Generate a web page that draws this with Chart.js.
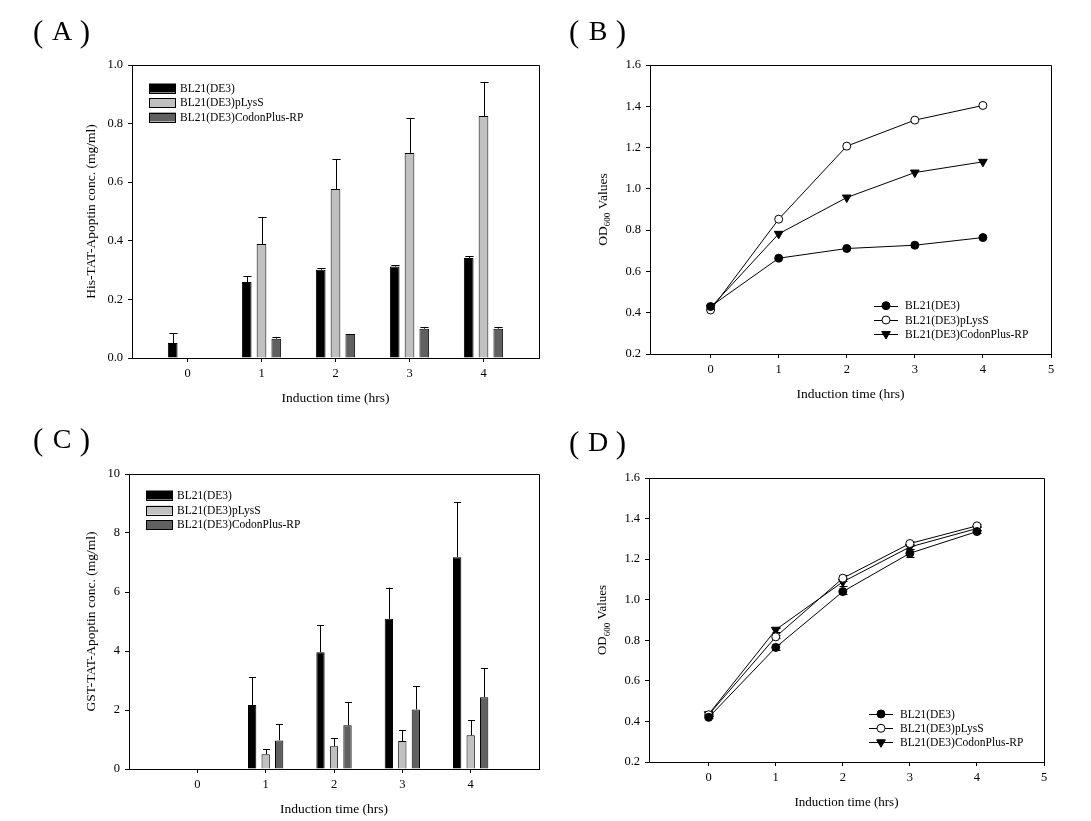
<!DOCTYPE html>
<html>
<head>
<meta charset="utf-8">
<script src="https://cdn.jsdelivr.net/npm/chart.js@4.4.1/dist/chart.umd.min.js"></script>
<style>
  body { margin: 0; background: #fff; width: 1091px; height: 821px; overflow: hidden; position: relative; }
  canvas { position: absolute; }
</style>
</head>
<body>
<canvas id="cA" width="545" height="410" style="left:0;top:0"></canvas>
<canvas id="cB" width="546" height="410" style="left:545px;top:0"></canvas>
<canvas id="cC" width="545" height="411" style="left:0;top:410px"></canvas>
<canvas id="cD" width="546" height="411" style="left:545px;top:410px"></canvas>
<script>
var hours = [0, 1, 2, 3, 4];
var strains = ['BL21(DE3)', 'BL21(DE3)pLysS', 'BL21(DE3)CodonPlus-RP'];
var xTicksBar = [0, 1, 2, 3, 4];
var xTicksLine = [0, 1, 2, 3, 4, 5];
var yTicksHis = [0, 0.2, 0.4, 0.6, 0.8, 1.0];
var yTicksGst = [0, 2, 4, 6, 8, 10];
var yTicksOD = [0.2, 0.4, 0.6, 0.8, 1.0, 1.2, 1.4, 1.6];

// (A) His-TAT-Apoptin conc. (mean, upper error)
var hisBL21 = [0.051, 0.259, 0.301, 0.312, 0.341];
var hisBL21Err = [0.034, 0.021, 0.006, 0.005, 0.007];
var hisPLysS = [null, 0.389, 0.577, 0.700, 0.826];
var hisPLysSErr = [0, 0.092, 0.102, 0.119, 0.116];
var hisCodon = [null, 0.066, 0.082, 0.100, 0.100];
var hisCodonErr = [0, 0.006, 0, 0.006, 0.006];

// (B) OD600, His constructs
var odHisBL21 = [0.430, 0.664, 0.711, 0.727, 0.764];
var odHisPLysS = [0.413, 0.853, 1.207, 1.333, 1.404];
var odHisCodon = [0.425, 0.782, 0.958, 1.079, 1.131];

// (C) GST-TAT-Apoptin conc.
var gstBL21 = [null, 2.17, 3.96, 5.09, 7.18];
var gstBL21Err = [0, 0.94, 0.92, 1.06, 1.86];
var gstPLysS = [null, 0.50, 0.77, 0.95, 1.14];
var gstPLysSErr = [0, 0.17, 0.27, 0.36, 0.51];
var gstCodon = [null, 0.97, 1.48, 2.02, 2.43];
var gstCodonErr = [0, 0.55, 0.78, 0.79, 0.99];

// (D) OD600, GST constructs
var odGstBL21 = [0.420, 0.765, 1.040, 1.229, 1.336];
var odGstBL21Err = [0.005, 0.015, 0.012, 0.02, 0.008];
var odGstPLysS = [0.433, 0.817, 1.106, 1.277, 1.364];
var odGstPLysSErr = [0.005, 0.008, 0.015, 0.01, 0.008];
var odGstCodon = [0.436, 0.852, 1.088, 1.260, 1.351];
var odGstCodonErr = [0.005, 0.01, 0.02, 0.012, 0.008];

var SERIF = "'Liberation Serif', 'DejaVu Serif', serif";
Chart.defaults.font.family = SERIF;
Chart.defaults.color = '#000';

function pts(ys) {
    return hours.map(function (h, i) { return { x: h, y: ys[i] }; });
}

// error bars, frame, titles, legend, panel letter
var decor = {
    id: 'decor',
    beforeDatasetsDraw: function (chart, args, o) {
        var ctx = chart.ctx;
        var ys = chart.scales.y;
        ctx.save();
        ctx.strokeStyle = '#000';
        ctx.lineWidth = 1;
        chart.data.datasets.forEach(function (ds, di) {
            if (!ds.errs) return;
            var meta = chart.getDatasetMeta(di);
            meta.data.forEach(function (el, i) {
                var v = ds.data[i].y, e = ds.errs[i];
                if (v === null || !e) return;
                var x = Math.round(el.x) + 0.5;
                var top = ys.getPixelForValue(v + e);
                var bot = ds.type === 'line' || chart.config.type === 'line' ? ys.getPixelForValue(v - e) : el.y;
                var cap = chart.config.type === 'bar' ? el.width * 0.85 / 2 : 4;
                ctx.beginPath();
                ctx.moveTo(x, bot); ctx.lineTo(x, top);
                ctx.moveTo(x - cap, Math.round(top) + 0.5); ctx.lineTo(x + cap, Math.round(top) + 0.5);
                if (chart.config.type === 'line') {
                    ctx.moveTo(x - cap, Math.round(bot) + 0.5); ctx.lineTo(x + cap, Math.round(bot) + 0.5);
                }
                ctx.stroke();
            });
        });
        ctx.restore();
    },
    afterDraw: function (chart, args, o) {
        var ctx = chart.ctx, a = chart.chartArea;
        ctx.save();
        ctx.strokeStyle = '#000';
        ctx.lineWidth = 1;
        // top and right frame
        ctx.beginPath();
        ctx.moveTo(Math.round(a.left), Math.round(a.top) + 0.5);
        ctx.lineTo(Math.round(a.right) + 0.5, Math.round(a.top) + 0.5);
        ctx.lineTo(Math.round(a.right) + 0.5, Math.round(a.bottom));
        ctx.stroke();

        ctx.fillStyle = '#000';
        // panel letter
        ctx.textBaseline = 'alphabetic';
        ctx.font = '31px ' + SERIF;
        ctx.textAlign = 'left';
        ctx.fillText('(', o.panel.x, o.panel.y + 2);
        ctx.textAlign = 'right';
        ctx.fillText(')', o.panel.x + 57, o.panel.y + 2);
        ctx.font = '28px ' + SERIF;
        ctx.textAlign = 'center';
        ctx.fillText(o.panel.text, o.panel.x + 29, o.panel.y);

        // x title
        ctx.font = o.titleFont + 'px ' + SERIF;
        ctx.textBaseline = 'middle';
        ctx.fillText(o.xTitle, (a.left + a.right) / 2, o.xTitleY);

        // y title (optional subscript)
        ctx.save();
        ctx.translate(o.yTitleX, (a.top + a.bottom) / 2);
        ctx.rotate(-Math.PI / 2);
        ctx.textAlign = 'left';
        var big = o.titleFont + 'px ' + SERIF, small = Math.round(o.titleFont * 0.7) + 'px ' + SERIF;
        var parts = o.yTitle;
        var total = 0;
        parts.forEach(function (p) { ctx.font = p.sub ? small : big; total += ctx.measureText(p.t).width; });
        var cx = -total / 2;
        parts.forEach(function (p) {
            ctx.font = p.sub ? small : big;
            ctx.fillText(p.t, cx, p.sub ? 5 : 0);
            cx += ctx.measureText(p.t).width;
        });
        ctx.restore();

        // legend
        var L = o.legend;
        ctx.font = L.font + 'px ' + SERIF;
        ctx.textAlign = 'left';
        ctx.textBaseline = 'middle';
        chart.data.datasets.forEach(function (ds, i) {
            var cy = L.rows[i];
            if (L.kind === 'bar') {
                ctx.fillStyle = ds.backgroundColor;
                ctx.fillRect(L.x, cy - 4.5, 27, 9);
                ctx.strokeRect(L.x + 0.5, Math.round(cy - 4.5) + 0.5, 26, 9);
                ctx.fillStyle = '#000';
                ctx.fillText(ds.label, L.x + 31, cy + 0.5);
            } else {
                ctx.beginPath();
                ctx.moveTo(L.x, Math.round(cy) + 0.5);
                ctx.lineTo(L.x + 24, Math.round(cy) + 0.5);
                ctx.stroke();
                ctx.fillStyle = ds.pointBackgroundColor;
                ctx.strokeStyle = '#000';
                ctx.lineWidth = 1;
                Chart.helpers.drawPoint(ctx, {
                    pointStyle: ds.pointStyle, radius: ds.pointRadius,
                    rotation: ds.pointRotation || 0, borderWidth: 1
                }, L.x + 12, cy);
                ctx.fillStyle = '#000';
                ctx.fillText(ds.label, L.x + 31, cy + 0.5);
            }
        });
        ctx.restore();
    }
};

function scales(W, H, area, xMin, xMax, xTicks, yMin, yMax, yTicks, digits) {
    return {
        x: {
            type: 'linear', min: xMin, max: xMax, offset: false,
            afterBuildTicks: function (s) { s.ticks = xTicks.map(function (v) { return { value: v }; }); },
            afterFit: function (s) { s.height = 40; },
            grid: { offset: false, drawOnChartArea: false, tickLength: 4, color: '#000', lineWidth: 1 },
            border: { color: '#000', width: 1 },
            ticks: { color: '#000', font: { size: 12.5 }, padding: 4, maxRotation: 0, autoSkip: false,
                     callback: function (v) { return String(v); } }
        },
        y: {
            type: 'linear', min: yMin, max: yMax,
            afterBuildTicks: function (s) { s.ticks = yTicks.map(function (v) { return { value: v }; }); },
            afterFit: function (s) { s.width = 50; },
            grid: { drawOnChartArea: false, tickLength: 4, color: '#000', lineWidth: 1 },
            border: { color: '#000', width: 1 },
            ticks: { color: '#000', font: { size: 12.5 }, padding: 5, autoSkip: false,
                     callback: function (v) { return v.toFixed(digits); } }
        }
    };
}

function layout(W, H, area) {
    return { padding: { left: area.l - 50, top: area.t, right: W - area.r, bottom: H - area.b - 40 } };
}

function barSet(label, vals, errs, fill) {
    return { label: label, data: pts(vals), errs: errs, backgroundColor: fill,
             borderColor: '#000', borderWidth: 1 };
}

function lineSet(label, vals, errs, style, fill, r, rot) {
    return { label: label, data: pts(vals), errs: errs, borderColor: '#000', borderWidth: 1,
             pointStyle: style, pointBackgroundColor: fill, pointBorderColor: '#000',
             pointBorderWidth: 1, pointRadius: r, pointRotation: rot || 0, tension: 0 };
}

function barChart(id, W, H, area, sets, xMin, xMax, yMax, yTicks, digits, catPct, barPct, deco) {
    new Chart(document.getElementById(id), {
        type: 'bar',
        data: { datasets: sets },
        options: {
            responsive: false, animation: false, events: [],
            categoryPercentage: catPct, barPercentage: barPct,
            layout: layout(W, H, area),
            scales: scales(W, H, area, xMin, xMax, xTicksBar, 0, yMax, yTicks, digits),
            plugins: { legend: { display: false }, tooltip: { enabled: false }, decor: deco }
        },
        plugins: [decor]
    });
}

function lineChart(id, W, H, area, sets, deco) {
    new Chart(document.getElementById(id), {
        type: 'line',
        data: { datasets: sets },
        options: {
            responsive: false, animation: false, events: [],
            layout: layout(W, H, area),
            scales: scales(W, H, area, -0.89, 5, xTicksLine, 0.2, 1.6, yTicksOD, 1),
            plugins: { legend: { display: false }, tooltip: { enabled: false }, decor: deco }
        },
        plugins: [decor]
    });
}

var odTitle = [{ t: 'OD' }, { t: '600', sub: true }, { t: ' Values' }];

barChart('cA', 545, 410, { l: 132, r: 539, t: 65, b: 358 }, [
    barSet(strains[0], hisBL21, hisBL21Err, '#000000'),
    barSet(strains[1], hisPLysS, hisPLysSErr, '#c0c0c0'),
    barSet(strains[2], hisCodon, hisCodonErr, '#606060')
], -0.75, 4.75, 1.0, yTicksHis, 1, 0.6, 0.655, {
    panel: { text: 'A', x: 33, y: 40 },
    xTitle: 'Induction time (hrs)', xTitleY: 398, titleFont: 13.5,
    yTitle: [{ t: 'His-TAT-Apoptin conc. (mg/ml)' }], yTitleX: 91,
    legend: { kind: 'bar', x: 149, rows: [88, 102.5, 117], font: 11.5 }
});

lineChart('cB', 546, 410, { l: 105, r: 506, t: 65, b: 354 }, [
    lineSet(strains[0], odHisBL21, null, 'circle', '#000', 4),
    lineSet(strains[1], odHisPLysS, null, 'circle', '#fff', 4),
    lineSet(strains[2], odHisCodon, null, 'triangle', '#000', 5, 180)
], {
    panel: { text: 'B', x: 24, y: 40 },
    xTitle: 'Induction time (hrs)', xTitleY: 394, titleFont: 13.5,
    yTitle: odTitle, yTitleX: 58,
    legend: { kind: 'line', x: 329, rows: [305.7, 320, 334], font: 11.5 }
});

barChart('cC', 545, 411, { l: 129, r: 539, t: 64, b: 359 }, [
    barSet(strains[0], gstBL21, gstBL21Err, '#000000'),
    barSet(strains[1], gstPLysS, gstPLysSErr, '#c0c0c0'),
    barSet(strains[2], gstCodon, gstCodonErr, '#606060')
], -1, 5, 10, yTicksGst, 0, 0.593, 0.615, {
    panel: { text: 'C', x: 33, y: 38 },
    xTitle: 'Induction time (hrs)', xTitleY: 399, titleFont: 13.5,
    yTitle: [{ t: 'GST-TAT-Apoptin conc. (mg/ml)' }], yTitleX: 91,
    legend: { kind: 'bar', x: 146, rows: [85, 100, 114.5], font: 11.5 }
});

lineChart('cD', 546, 411, { l: 104, r: 499, t: 68, b: 352 }, [
    lineSet(strains[0], odGstBL21, odGstBL21Err, 'circle', '#000', 4),
    lineSet(strains[1], odGstPLysS, odGstPLysSErr, 'circle', '#fff', 4),
    lineSet(strains[2], odGstCodon, odGstCodonErr, 'triangle', '#000', 5, 180)
], {
    panel: { text: 'D', x: 24, y: 41 },
    xTitle: 'Induction time (hrs)', xTitleY: 393, titleFont: 13,
    yTitle: odTitle, yTitleX: 58,
    legend: { kind: 'line', x: 324, rows: [304, 318.3, 332.3], font: 11.5 }
});
</script>
</body>
</html>
